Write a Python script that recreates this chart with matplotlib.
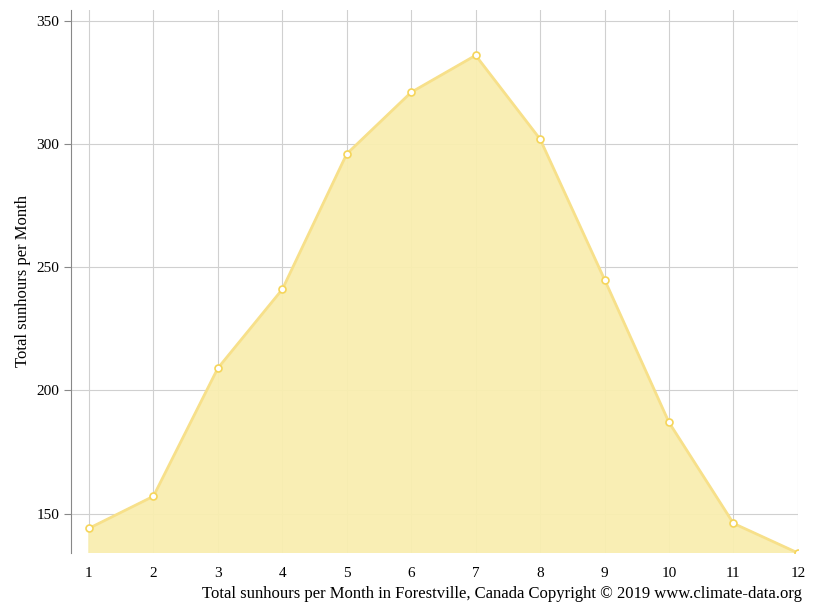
import matplotlib.pyplot as plt

months = [1, 2, 3, 4, 5, 6, 7, 8, 9, 10, 11, 12]
sunhours = [144, 157, 209, 241, 296, 321, 336, 302, 245, 187, 146, 134]
yticks = [150, 200, 250, 300, 350]

plt.rcParams['font.family'] = ['Liberation Serif', 'DejaVu Serif']

fig = plt.figure(figsize=(8.15, 6.11), dpi=100)
ax = fig.add_axes([0.087, 0.095, 0.892, 0.889])

ax.fill_between(months, sunhours, 0, color='#f9eeb0', alpha=0.95, zorder=2)
ax.plot(months, sunhours, color='#f7e08a', lw=2, zorder=3)
ax.plot(months, sunhours, 'o', ms=5, mfc='white', mec='#f5d55a', mew=1.2, zorder=4)

ax.set_xlim(0.72, 12)
ax.set_ylim(134, 354.5)
ax.set_xticks(months)
ax.set_yticks(yticks)
ax.grid(True, color='#d0d0d0', lw=0.8, zorder=1)
ax.set_axisbelow(True)
for s in ['top', 'right', 'bottom']:
    ax.spines[s].set_visible(False)
ax.spines['left'].set_color('#888888')
ax.tick_params(axis='x', length=0, pad=10, labelsize=11)
ax.tick_params(axis='y', length=5, color='#888888', labelsize=11)
ax.set_ylabel('Total sunhours per Month', fontsize=12)

fig.text(0.984, 0.015, 'Total sunhours per Month in Forestville, Canada Copyright \u00a9 2019 www.climate-data.org',
         ha='right', va='bottom', fontsize=12)

fig.savefig('out.png', dpi=100)
